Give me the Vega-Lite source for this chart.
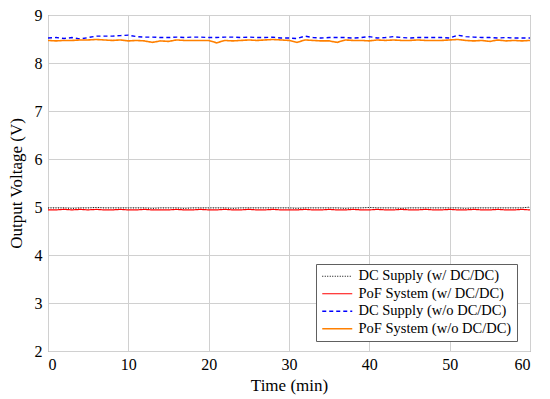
{
  "$schema": "https://vega.github.io/schema/vega-lite/v6.json",
  "width": 482,
  "height": 336,
  "autosize": {"type": "none"},
  "padding": {"left": 48, "top": 15, "right": 20, "bottom": 48},
  "background": "white",
  "config": {
    "view": {"stroke": "#707070", "strokeWidth": 1},
    "font": "Liberation Serif",
    "axis": {
      "labelFont": "Liberation Serif",
      "titleFont": "Liberation Serif",
      "labelFontSize": 16,
      "titleFontSize": 17,
      "labelColor": "#000",
      "titleColor": "#000",
      "titleFontWeight": "normal",
      "gridColor": "#d0d0d0",
      "gridWidth": 1,
      "domain": false,
      "ticks": false
    },
    "legend": {
      "orient": "none",
      "legendX": 268,
      "legendY": 249,
      "padding": 5,
      "rowPadding": 2.5,
      "strokeColor": "#606060",
      "fillColor": "white",
      "labelFont": "Liberation Serif",
      "labelFontSize": 14.5,
      "labelColor": "#000",
      "labelOffset": 23,
      "labelLimit": 300
    }
  },
  "data": {
    "values": [
      {"t":0,"DC Supply (w/o DC/DC)":8.52,"PoF System (w/o DC/DC)":8.47,"DC Supply (w/ DC/DC)":4.98,"PoF System (w/ DC/DC)":4.94},
      {"t":1,"DC Supply (w/o DC/DC)":8.53,"PoF System (w/o DC/DC)":8.46,"DC Supply (w/ DC/DC)":4.98,"PoF System (w/ DC/DC)":4.94},
      {"t":2,"DC Supply (w/o DC/DC)":8.51,"PoF System (w/o DC/DC)":8.47,"DC Supply (w/ DC/DC)":4.98,"PoF System (w/ DC/DC)":4.95},
      {"t":3,"DC Supply (w/o DC/DC)":8.53,"PoF System (w/o DC/DC)":8.47,"DC Supply (w/ DC/DC)":4.97,"PoF System (w/ DC/DC)":4.94},
      {"t":4,"DC Supply (w/o DC/DC)":8.50,"PoF System (w/o DC/DC)":8.48,"DC Supply (w/ DC/DC)":4.98,"PoF System (w/ DC/DC)":4.95},
      {"t":5,"DC Supply (w/o DC/DC)":8.53,"PoF System (w/o DC/DC)":8.48,"DC Supply (w/ DC/DC)":4.98,"PoF System (w/ DC/DC)":4.94},
      {"t":6,"DC Supply (w/o DC/DC)":8.56,"PoF System (w/o DC/DC)":8.49,"DC Supply (w/ DC/DC)":4.99,"PoF System (w/ DC/DC)":4.95},
      {"t":7,"DC Supply (w/o DC/DC)":8.56,"PoF System (w/o DC/DC)":8.48,"DC Supply (w/ DC/DC)":4.98,"PoF System (w/ DC/DC)":4.94},
      {"t":8,"DC Supply (w/o DC/DC)":8.56,"PoF System (w/o DC/DC)":8.47,"DC Supply (w/ DC/DC)":4.98,"PoF System (w/ DC/DC)":4.94},
      {"t":9,"DC Supply (w/o DC/DC)":8.57,"PoF System (w/o DC/DC)":8.48,"DC Supply (w/ DC/DC)":4.98,"PoF System (w/ DC/DC)":4.95},
      {"t":10,"DC Supply (w/o DC/DC)":8.58,"PoF System (w/o DC/DC)":8.46,"DC Supply (w/ DC/DC)":4.98,"PoF System (w/ DC/DC)":4.94},
      {"t":11,"DC Supply (w/o DC/DC)":8.55,"PoF System (w/o DC/DC)":8.47,"DC Supply (w/ DC/DC)":4.98,"PoF System (w/ DC/DC)":4.94},
      {"t":12,"DC Supply (w/o DC/DC)":8.54,"PoF System (w/o DC/DC)":8.46,"DC Supply (w/ DC/DC)":4.98,"PoF System (w/ DC/DC)":4.95},
      {"t":13,"DC Supply (w/o DC/DC)":8.54,"PoF System (w/o DC/DC)":8.43,"DC Supply (w/ DC/DC)":4.97,"PoF System (w/ DC/DC)":4.94},
      {"t":14,"DC Supply (w/o DC/DC)":8.53,"PoF System (w/o DC/DC)":8.46,"DC Supply (w/ DC/DC)":4.98,"PoF System (w/ DC/DC)":4.94},
      {"t":15,"DC Supply (w/o DC/DC)":8.53,"PoF System (w/o DC/DC)":8.45,"DC Supply (w/ DC/DC)":4.98,"PoF System (w/ DC/DC)":4.94},
      {"t":16,"DC Supply (w/o DC/DC)":8.54,"PoF System (w/o DC/DC)":8.48,"DC Supply (w/ DC/DC)":4.98,"PoF System (w/ DC/DC)":4.95},
      {"t":17,"DC Supply (w/o DC/DC)":8.53,"PoF System (w/o DC/DC)":8.47,"DC Supply (w/ DC/DC)":4.97,"PoF System (w/ DC/DC)":4.94},
      {"t":18,"DC Supply (w/o DC/DC)":8.54,"PoF System (w/o DC/DC)":8.47,"DC Supply (w/ DC/DC)":4.98,"PoF System (w/ DC/DC)":4.94},
      {"t":19,"DC Supply (w/o DC/DC)":8.54,"PoF System (w/o DC/DC)":8.47,"DC Supply (w/ DC/DC)":4.98,"PoF System (w/ DC/DC)":4.95},
      {"t":20,"DC Supply (w/o DC/DC)":8.53,"PoF System (w/o DC/DC)":8.47,"DC Supply (w/ DC/DC)":4.98,"PoF System (w/ DC/DC)":4.94},
      {"t":21,"DC Supply (w/o DC/DC)":8.53,"PoF System (w/o DC/DC)":8.42,"DC Supply (w/ DC/DC)":4.98,"PoF System (w/ DC/DC)":4.94},
      {"t":22,"DC Supply (w/o DC/DC)":8.54,"PoF System (w/o DC/DC)":8.47,"DC Supply (w/ DC/DC)":4.98,"PoF System (w/ DC/DC)":4.95},
      {"t":23,"DC Supply (w/o DC/DC)":8.54,"PoF System (w/o DC/DC)":8.46,"DC Supply (w/ DC/DC)":4.97,"PoF System (w/ DC/DC)":4.94},
      {"t":24,"DC Supply (w/o DC/DC)":8.53,"PoF System (w/o DC/DC)":8.47,"DC Supply (w/ DC/DC)":4.98,"PoF System (w/ DC/DC)":4.94},
      {"t":25,"DC Supply (w/o DC/DC)":8.54,"PoF System (w/o DC/DC)":8.48,"DC Supply (w/ DC/DC)":4.98,"PoF System (w/ DC/DC)":4.95},
      {"t":26,"DC Supply (w/o DC/DC)":8.53,"PoF System (w/o DC/DC)":8.47,"DC Supply (w/ DC/DC)":4.98,"PoF System (w/ DC/DC)":4.94},
      {"t":27,"DC Supply (w/o DC/DC)":8.53,"PoF System (w/o DC/DC)":8.48,"DC Supply (w/ DC/DC)":4.98,"PoF System (w/ DC/DC)":4.94},
      {"t":28,"DC Supply (w/o DC/DC)":8.54,"PoF System (w/o DC/DC)":8.49,"DC Supply (w/ DC/DC)":4.98,"PoF System (w/ DC/DC)":4.95},
      {"t":29,"DC Supply (w/o DC/DC)":8.52,"PoF System (w/o DC/DC)":8.48,"DC Supply (w/ DC/DC)":4.98,"PoF System (w/ DC/DC)":4.94},
      {"t":30,"DC Supply (w/o DC/DC)":8.52,"PoF System (w/o DC/DC)":8.47,"DC Supply (w/ DC/DC)":4.98,"PoF System (w/ DC/DC)":4.94},
      {"t":31,"DC Supply (w/o DC/DC)":8.51,"PoF System (w/o DC/DC)":8.43,"DC Supply (w/ DC/DC)":4.97,"PoF System (w/ DC/DC)":4.94},
      {"t":32,"DC Supply (w/o DC/DC)":8.56,"PoF System (w/o DC/DC)":8.48,"DC Supply (w/ DC/DC)":4.98,"PoF System (w/ DC/DC)":4.95},
      {"t":33,"DC Supply (w/o DC/DC)":8.53,"PoF System (w/o DC/DC)":8.47,"DC Supply (w/ DC/DC)":4.98,"PoF System (w/ DC/DC)":4.94},
      {"t":34,"DC Supply (w/o DC/DC)":8.52,"PoF System (w/o DC/DC)":8.46,"DC Supply (w/ DC/DC)":4.98,"PoF System (w/ DC/DC)":4.94},
      {"t":35,"DC Supply (w/o DC/DC)":8.53,"PoF System (w/o DC/DC)":8.46,"DC Supply (w/ DC/DC)":4.98,"PoF System (w/ DC/DC)":4.95},
      {"t":36,"DC Supply (w/o DC/DC)":8.53,"PoF System (w/o DC/DC)":8.43,"DC Supply (w/ DC/DC)":4.98,"PoF System (w/ DC/DC)":4.94},
      {"t":37,"DC Supply (w/o DC/DC)":8.53,"PoF System (w/o DC/DC)":8.48,"DC Supply (w/ DC/DC)":4.97,"PoF System (w/ DC/DC)":4.94},
      {"t":38,"DC Supply (w/o DC/DC)":8.52,"PoF System (w/o DC/DC)":8.47,"DC Supply (w/ DC/DC)":4.98,"PoF System (w/ DC/DC)":4.95},
      {"t":39,"DC Supply (w/o DC/DC)":8.53,"PoF System (w/o DC/DC)":8.47,"DC Supply (w/ DC/DC)":4.98,"PoF System (w/ DC/DC)":4.94},
      {"t":40,"DC Supply (w/o DC/DC)":8.55,"PoF System (w/o DC/DC)":8.46,"DC Supply (w/ DC/DC)":4.99,"PoF System (w/ DC/DC)":4.94},
      {"t":41,"DC Supply (w/o DC/DC)":8.52,"PoF System (w/o DC/DC)":8.48,"DC Supply (w/ DC/DC)":4.98,"PoF System (w/ DC/DC)":4.95},
      {"t":42,"DC Supply (w/o DC/DC)":8.53,"PoF System (w/o DC/DC)":8.47,"DC Supply (w/ DC/DC)":4.98,"PoF System (w/ DC/DC)":4.94},
      {"t":43,"DC Supply (w/o DC/DC)":8.55,"PoF System (w/o DC/DC)":8.48,"DC Supply (w/ DC/DC)":4.98,"PoF System (w/ DC/DC)":4.94},
      {"t":44,"DC Supply (w/o DC/DC)":8.53,"PoF System (w/o DC/DC)":8.47,"DC Supply (w/ DC/DC)":4.97,"PoF System (w/ DC/DC)":4.95},
      {"t":45,"DC Supply (w/o DC/DC)":8.52,"PoF System (w/o DC/DC)":8.47,"DC Supply (w/ DC/DC)":4.98,"PoF System (w/ DC/DC)":4.94},
      {"t":46,"DC Supply (w/o DC/DC)":8.53,"PoF System (w/o DC/DC)":8.48,"DC Supply (w/ DC/DC)":4.98,"PoF System (w/ DC/DC)":4.94},
      {"t":47,"DC Supply (w/o DC/DC)":8.53,"PoF System (w/o DC/DC)":8.47,"DC Supply (w/ DC/DC)":4.98,"PoF System (w/ DC/DC)":4.95},
      {"t":48,"DC Supply (w/o DC/DC)":8.53,"PoF System (w/o DC/DC)":8.47,"DC Supply (w/ DC/DC)":4.98,"PoF System (w/ DC/DC)":4.94},
      {"t":49,"DC Supply (w/o DC/DC)":8.53,"PoF System (w/o DC/DC)":8.47,"DC Supply (w/ DC/DC)":4.98,"PoF System (w/ DC/DC)":4.94},
      {"t":50,"DC Supply (w/o DC/DC)":8.52,"PoF System (w/o DC/DC)":8.48,"DC Supply (w/ DC/DC)":4.98,"PoF System (w/ DC/DC)":4.95},
      {"t":51,"DC Supply (w/o DC/DC)":8.58,"PoF System (w/o DC/DC)":8.49,"DC Supply (w/ DC/DC)":4.98,"PoF System (w/ DC/DC)":4.94},
      {"t":52,"DC Supply (w/o DC/DC)":8.55,"PoF System (w/o DC/DC)":8.47,"DC Supply (w/ DC/DC)":4.97,"PoF System (w/ DC/DC)":4.94},
      {"t":53,"DC Supply (w/o DC/DC)":8.54,"PoF System (w/o DC/DC)":8.46,"DC Supply (w/ DC/DC)":4.98,"PoF System (w/ DC/DC)":4.95},
      {"t":54,"DC Supply (w/o DC/DC)":8.53,"PoF System (w/o DC/DC)":8.47,"DC Supply (w/ DC/DC)":4.98,"PoF System (w/ DC/DC)":4.94},
      {"t":55,"DC Supply (w/o DC/DC)":8.53,"PoF System (w/o DC/DC)":8.45,"DC Supply (w/ DC/DC)":4.98,"PoF System (w/ DC/DC)":4.94},
      {"t":56,"DC Supply (w/o DC/DC)":8.52,"PoF System (w/o DC/DC)":8.48,"DC Supply (w/ DC/DC)":4.98,"PoF System (w/ DC/DC)":4.95},
      {"t":57,"DC Supply (w/o DC/DC)":8.53,"PoF System (w/o DC/DC)":8.46,"DC Supply (w/ DC/DC)":4.98,"PoF System (w/ DC/DC)":4.94},
      {"t":58,"DC Supply (w/o DC/DC)":8.52,"PoF System (w/o DC/DC)":8.47,"DC Supply (w/ DC/DC)":4.98,"PoF System (w/ DC/DC)":4.94},
      {"t":59,"DC Supply (w/o DC/DC)":8.52,"PoF System (w/o DC/DC)":8.46,"DC Supply (w/ DC/DC)":4.98,"PoF System (w/ DC/DC)":4.95},
      {"t":60,"DC Supply (w/o DC/DC)":8.52,"PoF System (w/o DC/DC)":8.47,"DC Supply (w/ DC/DC)":5.00,"PoF System (w/ DC/DC)":4.94}
    ]
  },
  "transform": [
    {"fold": ["DC Supply (w/ DC/DC)", "PoF System (w/ DC/DC)", "DC Supply (w/o DC/DC)", "PoF System (w/o DC/DC)"], "as": ["series", "v"]}
  ],
  "mark": {"type": "line", "clip": true},
  "encoding": {
    "x": {
      "field": "t", "type": "quantitative",
      "scale": {"domain": [0, 60], "nice": false},
      "axis": {"values": [0, 10, 20, 30, 40, 50, 60], "title": "Time (min)", "labelPadding": 5, "titlePadding": 5}
    },
    "y": {
      "field": "v", "type": "quantitative",
      "scale": {"domain": [2, 9], "nice": false, "zero": false},
      "axis": {"values": [2, 3, 4, 5, 6, 7, 8, 9], "title": "Output Voltage (V)", "labelPadding": 6, "titlePadding": 9}
    },
    "color": {
      "field": "series", "type": "nominal", "title": null,
      "sort": ["DC Supply (w/ DC/DC)", "PoF System (w/ DC/DC)", "DC Supply (w/o DC/DC)", "PoF System (w/o DC/DC)"],
      "scale": {
        "domain": ["DC Supply (w/ DC/DC)", "PoF System (w/ DC/DC)", "DC Supply (w/o DC/DC)", "PoF System (w/o DC/DC)"],
        "range": ["#000000", "#ff0000", "#0000ff", "#ff8000"]
      },
      "legend": {"symbolType": "M-1.2,0H4.8", "symbolSize": 100, "symbolStrokeWidth": 1.5}
    },
    "strokeDash": {
      "field": "series", "type": "nominal", "title": null,
      "sort": ["DC Supply (w/ DC/DC)", "PoF System (w/ DC/DC)", "DC Supply (w/o DC/DC)", "PoF System (w/o DC/DC)"],
      "scale": {
        "domain": ["DC Supply (w/ DC/DC)", "PoF System (w/ DC/DC)", "DC Supply (w/o DC/DC)", "PoF System (w/o DC/DC)"],
        "range": [[1, 1.5], [1, 0], [4, 3], [1, 0]]
      }
    },
    "strokeWidth": {
      "field": "series", "type": "nominal", "legend": null,
      "scale": {
        "domain": ["DC Supply (w/ DC/DC)", "PoF System (w/ DC/DC)", "DC Supply (w/o DC/DC)", "PoF System (w/o DC/DC)"],
        "range": [1, 1.6, 1.6, 1.4]
      }
    }
  }
}
